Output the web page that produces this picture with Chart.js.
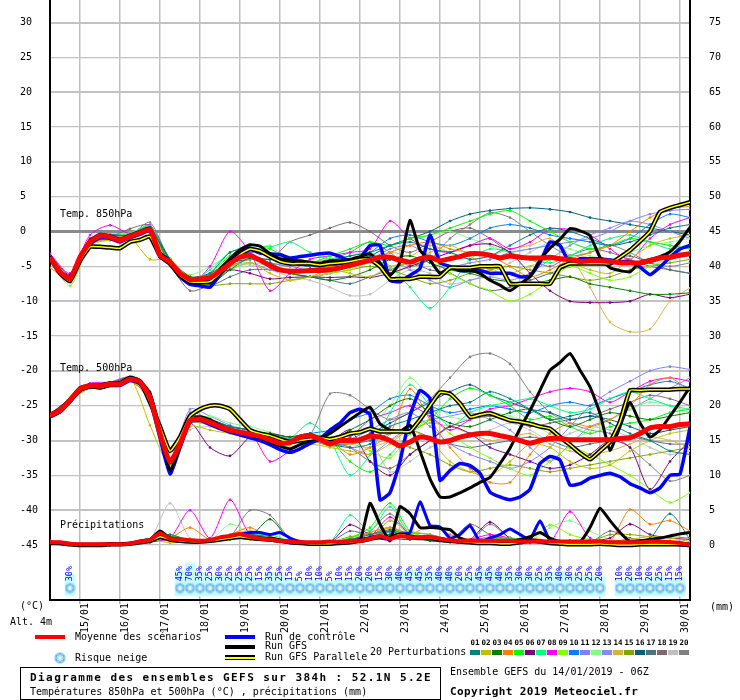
<!DOCTYPE html>
<html><head><meta charset="utf-8">
<script src="https://cdn.jsdelivr.net/npm/chart.js@4.4.1/dist/chart.umd.min.js"></script>
<style>
html,body{margin:0;padding:0;background:#fff;}
#wrap{position:relative;width:740px;height:700px;overflow:hidden;font-family:"DejaVu Sans Mono",monospace;font-size:10px;color:#000;}
#c{position:absolute;left:0;top:0;}
.t{position:absolute;white-space:nowrap;line-height:10px;}
.b{font-weight:bold;font-size:11px;line-height:11px;}
.bar{position:absolute;}
</style></head>
<body><div id="wrap"><canvas id="c" width="740" height="700"></canvas>
<div class="t" style="left:60px;top:209px">Temp. 850hPa</div>
<div class="t" style="left:60px;top:363px">Temp. 500hPa</div>
<div class="t" style="left:60px;top:520px">Précipitations</div>
<div class="t" style="left:20px;top:601px">(°C)</div>
<div class="t" style="left:10px;top:617px">Alt. 4m</div>
<div class="t" style="left:710px;top:602px">(mm)</div>
<div class="bar" style="left:35px;top:635px;width:30px;height:4px;background:#ff0000"></div>
<div class="t" style="left:75px;top:632px">Moyenne des scénarios</div>
<canvas id="flakeLeg" width="12" height="12" style="position:absolute;left:54px;top:652px"></canvas>
<div class="t" style="left:75px;top:653px">Risque neige</div>
<div class="bar" style="left:225px;top:635px;width:30px;height:4px;background:#0000ff"></div>
<div class="t" style="left:265px;top:632px">Run de contrôle</div>
<div class="bar" style="left:225px;top:645px;width:30px;height:4px;background:#000"></div>
<div class="t" style="left:265px;top:641px">Run GFS</div>
<div class="bar" style="left:225px;top:655px;width:30px;height:5px;background:#000"></div>
<div class="bar" style="left:225px;top:657px;width:30px;height:1.5px;background:#ffff00"></div>
<div class="t" style="left:265px;top:652px">Run GFS Parallele</div>
<div class="t" style="left:370px;top:647px">20 Perturbations</div>
<div id="swatches"></div>
<div style="position:absolute;left:20px;top:667px;width:419px;height:31px;border:1px solid #000;"></div>
<div class="t b" style="left:30px;top:672px;letter-spacing:1.42px">Diagramme des ensembles GEFS sur 384h : 52.1N 5.2E</div>
<div class="t" style="left:30px;top:687px">Températures 850hPa et 500hPa (°C) , précipitations (mm)</div>
<div class="t" style="left:450px;top:667px">Ensemble GEFS du 14/01/2019 - 06Z</div>
<div class="t b" style="left:450px;top:686px;letter-spacing:0.35px">Copyright 2019 Meteociel.fr</div>
</div>
<script>
// ---------------- DATA ----------------
const hours6 = []; for (let h = 0; h <= 384; h += 6) hours6.push(h);
const hours12 = []; for (let h = 0; h <= 384; h += 12) hours12.push(h);
const dayHours = [18,42,66,90,114,138,162,186,210,234,258,282,306,330,354,378];
const dayLabels = ['15/01','16/01','17/01','18/01','19/01','20/01','21/01','22/01','23/01','24/01','25/01','26/01','27/01','28/01','29/01','30/01'];
const leftTicks = [30,25,20,15,10,5,0,-5,-10,-15,-20,-25,-30,-35,-40,-45];
const rightTicks = [75,70,65,60,55,50,45,40,35,30,25,20,15,10,5,0];

const t850Mean = [-3.7,-5.8,-6.8,-3.7,-1.5,-0.6,-0.8,-1.3,-0.7,-0.2,0.3,
 -3.4,-4.4,-6.0,-6.9,-6.8,-6.6,-5.7,-4.6,-3.7,-3.4,-4.1,-4.9,-5.5,-5.7,-5.7,-5.6,-5.6,-5.5,-5.2,-4.9,-4.5,-4.1,
 -3.7,-3.7,-4.1,-4.4,-3.9,-3.7,-4.2,-3.9,-3.6,-3.2,-3.2,-3.4,-3.8,-3.5,-3.7,-3.8,-3.8,-3.7,-3.9,-4.0,-4.3,-4.2,-4.2,-4.3,-4.5,-4.5,-4.5,-4.2,-3.8,-3.7,-3.4,-3.2];
const t850Ctrl = [-3.5,-5.9,-7.0,-3.9,-1.8,-0.9,-1.0,-1.5,-0.9,-0.4,0.1,
 -3.6,-4.6,-6.5,-7.6,-7.8,-8.0,-6.2,-4.2,-2.7,-2.4,-3.1,-3.2,-3.3,-3.8,-3.6,-3.4,-3.2,-3.1,-3.6,-4.2,-3.8,-2.0,
 -2.0,-7.0,-7.2,-6.3,-5.3,-0.5,-4.5,-5.0,-5.6,-5.6,-5.6,-6.0,-6.0,-6.0,-6.5,-6.4,-4.4,-1.5,-2.0,-4.6,-3.9,-3.9,-3.9,-4.1,-4.3,-4.3,-5.1,-6.2,-5.1,-3.7,-2.5,-2.0];
const t850Gfs = [-3.6,-5.7,-6.6,-3.5,-1.3,-0.4,-0.6,-1.1,-0.5,0.0,0.5,
 -3.0,-4.2,-6.2,-7.0,-7.2,-6.8,-5.4,-3.9,-2.6,-1.9,-2.1,-3.2,-3.9,-4.1,-4.2,-4.4,-4.6,-4.2,-4.2,-4.0,-3.6,-3.2,
 -4.5,-6.3,-4.4,1.6,-2.7,-4.1,-6.0,-5.2,-5.6,-5.6,-6.0,-7.0,-7.7,-8.5,-7.5,-6.5,-4.1,-2.4,-1.1,0.4,0.1,-0.6,-3.7,-5.2,-5.6,-5.8,-4.4,-4.0,-3.6,-2.9,-1.4,0.6];
const t850Par = [-3.8,-6.0,-7.1,-4.2,-2.2,-2.2,-2.3,-2.4,-1.5,-1.2,-0.7,
 -3.5,-4.6,-6.3,-7.2,-7.3,-7.2,-6.0,-4.6,-3.3,-2.5,-2.8,-3.6,-4.3,-4.6,-4.6,-4.6,-4.8,-4.6,-4.5,-4.3,-4.0,-4.0,
 -5.0,-6.8,-6.8,-6.8,-6.5,-6.5,-6.5,-5.2,-5.2,-5.2,-5.0,-5.0,-5.0,-7.5,-7.5,-7.5,-7.5,-7.5,-5.2,-4.6,-4.6,-4.6,-4.6,-4.6,-3.7,-2.7,-1.4,0.0,2.8,3.4,3.8,4.2];

const t500Mean = [-26.4,-25.7,-24.2,-22.6,-22.1,-22.2,-21.9,-21.9,-21.2,-21.6,-23.8,-29.0,-33.1,-30.5,-27.1,-26.9,-27.4,-28.0,-28.5,-28.8,-29.1,-29.4,-29.9,-30.4,-30.3,-29.5,-29.3,-29.8,-30.5,-30.0,-30.0,-29.9,-29.4,
 -29.5,-30.0,-30.8,-30.2,-29.5,-29.7,-30.2,-30.0,-29.5,-29.2,-29.0,-29.0,-29.3,-29.6,-30.0,-30.4,-30.0,-29.7,-29.7,-29.9,-29.9,-29.9,-29.9,-29.9,-29.7,-29.6,-29.0,-28.2,-28.0,-28.0,-27.7,-27.6];
const t500Gfs = [-26.2,-25.5,-24.0,-22.4,-22.0,-22.0,-21.7,-21.7,-21.0,-21.4,-23.2,-28.5,-34.3,-31.0,-27.0,-26.6,-27.0,-27.8,-28.4,-28.8,-29.2,-29.6,-30.2,-30.8,-31.2,-30.6,-30.0,-29.6,
 -29.0,-28.0,-27.0,-26.0,-25.2,
 -27.6,-28.5,-28.7,-27.8,-31.5,-35.5,-38.1,-38.1,-37.5,-36.8,-36.0,-35.3,-33.3,-31.1,-28.3,-25.7,-22.8,-19.9,-18.8,-17.5,-19.9,-22.3,-26.1,-31.4,-28.0,-24.5,-27.5,-29.5,-28.5,-26.5,-24.5,-22.3];
const t500Ctrl = [-26.6,-25.9,-24.4,-22.8,-22.3,-22.4,-22.1,-22.1,-21.4,-21.8,-24.2,-29.6,-34.8,-31.0,-27.3,-27.1,-27.7,-28.3,-28.8,-29.2,-29.6,-30.0,-30.6,-31.3,-31.7,-31.2,-30.4,-29.8,
 -28.5,-27.5,-26.0,-25.5,-26.3,
 -38.5,-37.5,-33.0,-26.5,-22.8,-24.0,-35.7,-34.3,-33.3,-33.6,-34.7,-37.4,-38.1,-38.5,-38.1,-37.0,-33.3,-32.3,-32.8,-36.4,-36.2,-35.4,-35.0,-34.7,-35.2,-36.2,-36.8,-37.5,-36.8,-35.0,-34.8,-28.1];
const t500Par = [-26.5,-25.8,-24.3,-22.7,-22.2,-22.4,-22.0,-21.8,-21.0,-21.5,-24.5,-28.0,-31.5,-29.5,-26.5,-25.5,
 -25.0,-25.0,-25.5,-27.0,-28.5,-29.0,-29.3,-29.8,-30.2,-30.0,-29.8,-29.6,-29.8,-29.5,-29.0,-28.8,
 -28.3,
 -28.7,-28.7,-28.7,-28.7,-27.0,-25.0,-23.1,-23.3,-24.7,-26.6,-26.3,-26.1,-26.6,-27.1,-27.3,-27.6,-28.0,-28.3,-29.5,-30.6,-31.8,-32.7,-31.5,-30.2,-27.3,-22.8,-22.8,-22.7,-22.7,-22.7,-22.6,-22.6];

const prMean = [0.4,0.4,0.2,0.1,0.1,0.1,0.1,0.1,0.2,0.5,0.7,
 1.7,0.9,0.8,0.7,0.6,0.7,1.1,1.3,1.6,1.2,0.9,0.8,0.6,0.5,0.4,0.4,0.4,0.5,0.4,0.6,0.6,0.9,
 1.3,0.9,1.3,1.1,1.1,1.2,0.9,0.7,0.6,0.6,0.6,0.6,0.6,0.6,0.5,0.5,0.5,0.5,0.5,0.5,0.5,0.5,0.5,0.4,0.4,0.4,0.4,0.5,0.5,0.4,0.3,0.0];
const prGfs = [0.3,0.3,0.1,0.0,0.0,0.1,0.1,0.1,0.2,0.6,0.8,
 2.0,1.0,0.8,0.5,0.6,0.7,0.9,1.2,1.4,1.0,0.8,1.0,0.7,0.5,0.3,0.3,0.3,0.4,0.3,0.5,0.6,6.0,
 3.0,0.6,5.5,4.5,2.5,2.5,2.4,2.2,1.0,0.5,0.5,0.4,0.4,0.5,0.8,1.2,1.8,1.0,0.5,0.3,0.4,2.5,5.3,3.5,1.8,0.5,0.6,0.8,1.0,1.3,1.6,1.8];
const prCtrl = [0.3,0.2,0.1,0.0,0.0,0.0,0.1,0.1,0.2,0.5,0.6,
 1.5,0.8,0.6,0.6,0.5,0.6,1.0,1.3,1.5,1.8,1.8,1.5,1.8,1.0,0.5,0.3,0.3,0.3,0.4,0.5,0.8,1.0,
 1.0,0.8,1.5,1.8,6.2,2.8,2.6,1.0,1.5,2.8,0.5,1.0,1.5,2.3,1.5,0.8,3.5,0.6,0.3,0.2,0.2,0.2,0.2,0.3,0.3,0.1,0.1,0.2,0.2,0.2,0.0,0.0];
const prPar = [0.3,0.3,0.1,0.0,0.0,0.0,0.1,0.1,0.2,0.4,0.6,
 1.2,0.8,0.6,0.5,0.5,0.6,0.8,1.0,1.2,1.0,0.9,0.8,0.6,0.4,0.3,0.2,0.2,0.2,0.3,0.4,0.6,0.9,
 1.2,1.0,1.5,1.2,1.0,1.0,0.8,0.6,0.5,0.4,0.3,0.3,0.2,0.2,0.4,0.6,0.5,0.3,0.2,0.1,0.1,0.1,0.2,0.1,0.0,0.0,0.1,0.1,0.1,0.1,0.1,0.0];

const pertColors = ['#008080','#c0c000','#008000','#ff8000','#00ff00','#800080','#00ff80','#ff00ff','#80ff00','#0080ff',
 '#8080ff','#80ff80','#8888f8','#e0b040','#80a800','#006080','#507080','#806870','#c0c0c0','#808080'];

const t850Pert = [
 [-3.5,-6.5,-1.2,-0.6,-0.5,0.6,-4.8,-7.2,-6.0,-3.0,-2.5,-3.5,-4.5,-5.0,-4.2,-3.5,-3.0,-2.0,-1.5,-2.5,-3.0,-4.0,-3.5,-2.0,-0.5,0.5,0.0,-1.0,-2.0,-1.5,-0.5,0.5,1.0],
 [-3.9,-7.2,-2.0,-1.2,-0.9,-4.0,-4.0,-6.8,-7.0,-5.0,-4.5,-6.0,-7.0,-6.5,-5.5,-6.0,-6.5,-5.0,-4.5,-3.0,-2.0,-3.5,-5.5,-6.0,-5.0,-4.0,-4.5,-5.5,-6.0,-4.0,-2.0,-1.0,-0.5],
 [-3.8,-6.6,-1.6,-0.9,-0.8,0.2,-4.0,-6.5,-7.5,-5.5,-3.8,-4.5,-6.0,-6.5,-7.0,-6.5,-5.5,-4.0,-3.5,-4.5,-5.5,-6.0,-6.8,-7.2,-7.5,-7.0,-6.5,-7.5,-8.0,-8.5,-9.0,-9.0,-8.8],
 [-5.2,-6.9,-1.8,-1.0,-0.5,0.4,-4.3,-7.0,-6.2,-4.0,-2.8,-3.5,-4.2,-4.8,-5.0,-5.0,-4.0,-3.0,-2.0,-1.5,-2.5,-3.0,-3.5,-5.0,-6.5,-5.5,-4.0,-3.0,-2.0,0.0,2.0,3.3,3.6],
 [-3.6,-7.3,-1.3,-0.7,-0.4,0.5,-4.6,-7.4,-6.0,-3.5,-2.0,-2.5,-4.0,-4.5,-3.5,-2.5,-1.5,-2.0,-1.0,-0.5,0.5,1.5,2.5,3.0,1.5,0.0,-1.5,-2.5,-2.0,-1.0,-1.5,-2.0,-2.5],
 [-3.4,-6.2,-1.0,-0.5,-0.6,0.4,-4.2,-6.8,-6.5,-5.5,-6.0,-6.8,-6.6,-6.5,-6.6,-6.5,-6.6,-6.0,-5.0,-4.0,-3.0,-2.0,-1.8,-3.0,-6.0,-8.5,-10.0,-10.2,-10.2,-10.0,-9.0,-9.5,-9.0],
 [-3.6,-7.0,-1.4,-0.4,-0.3,0.8,-4.4,-7.0,-5.5,-3.0,-2.0,-2.2,-1.5,-3.0,-4.0,-3.5,-3.0,-5.0,-8.0,-11.0,-8.0,-4.0,-2.5,-3.0,-4.0,-4.5,-3.5,-2.0,-1.0,-0.5,-1.5,-2.5,-2.0],
 [-3.2,-6.0,-0.5,0.9,-0.3,0.9,-4.4,-7.5,-5.0,0.0,-3.0,-8.5,-6.0,-4.0,-3.5,-3.0,-2.5,1.5,-1.0,-2.5,-3.0,-2.0,-1.0,-2.5,-1.5,0.3,0.3,-0.5,-2.5,-4.0,-1.0,1.0,2.0],
 [-3.9,-7.8,-1.9,-1.3,-1.2,0.1,-4.5,-7.2,-7.5,-5.5,-4.5,-5.0,-6.0,-6.5,-6.0,-5.5,-4.5,-6.0,-5.0,-4.0,-6.0,-7.5,-8.5,-10.0,-9.0,-7.0,-5.0,-6.0,-7.0,-6.5,-5.0,-4.0,-3.0],
 [-3.5,-6.6,-1.2,-0.4,-0.6,0.6,-3.9,-7.0,-6.5,-4.0,-3.0,-3.5,-4.5,-5.0,-5.2,-4.0,-3.0,-1.0,-0.5,-1.5,-2.0,-1.0,0.5,1.0,0.5,-0.5,-1.0,-1.5,-2.0,-1.0,1.0,2.5,2.0],
 [-3.7,-6.9,-1.5,-0.5,-0.8,0.3,-4.0,-6.8,-6.5,-5.0,-4.0,-4.5,-5.0,-5.5,-5.0,-4.5,-4.0,-2.5,-2.0,-3.5,-5.0,-4.5,-4.0,-3.0,-2.5,-2.0,-1.5,-1.0,0.0,1.5,2.5,3.0,3.2],
 [-3.4,-6.4,-1.1,-0.7,-0.2,0.7,-4.6,-6.2,-5.0,-3.5,-3.0,-2.0,-4.5,-5.5,-5.0,-4.5,-4.0,-3.0,-1.5,-0.5,0.0,-1.0,-2.0,-3.0,-2.5,-2.0,-2.5,-3.5,-4.0,-3.0,-2.0,-1.5,-1.0],
 [-3.8,-6.8,-1.7,-0.8,-0.6,0.1,-4.3,-7.4,-7.0,-5.5,-4.5,-5.5,-6.0,-6.5,-6.0,-5.0,-4.5,-4.0,-5.5,-7.0,-8.0,-7.0,-6.5,-7.0,-6.0,-4.0,-2.0,-0.5,0.5,1.5,1.0,0.0,-1.0],
 [-3.6,-6.9,-1.6,-0.9,-0.7,0.2,-4.4,-7.0,-6.8,-5.0,-4.0,-4.8,-5.5,-5.8,-5.5,-5.0,-4.5,-3.0,-3.5,-2.0,-3.0,-4.0,-3.5,-2.5,-2.0,-1.0,-3.5,-8.0,-13.0,-14.4,-14.0,-10.0,-8.1],
 [-3.7,-7.1,-1.8,-1.1,-0.9,0.0,-4.9,-7.6,-7.8,-7.5,-7.5,-7.5,-7.0,-6.5,-6.0,-5.5,-5.0,-5.5,-6.5,-7.5,-7.0,-6.0,-5.5,-5.0,-5.5,-6.0,-6.5,-7.0,-6.5,-5.5,-5.0,-4.5,-4.0],
 [-3.6,-6.7,-1.4,-0.6,-0.4,0.5,-4.0,-6.5,-6.0,-4.5,-4.0,-4.0,-4.5,-5.0,-4.5,-4.0,-3.5,-2.0,-1.0,0.0,1.5,2.5,3.0,3.3,3.4,3.2,2.8,2.0,1.5,1.0,0.5,0.0,-0.5],
 [-3.5,-6.8,-1.3,-0.7,-0.6,0.4,-4.1,-7.2,-7.8,-6.5,-5.5,-5.5,-6.0,-6.5,-7.0,-7.5,-6.5,-5.5,-4.5,-5.5,-6.0,-7.5,-8.5,-8.0,-7.0,-6.0,-5.0,-4.5,-4.0,-3.5,-4.5,-5.5,-6.0],
 [-3.7,-7.0,-1.5,-0.8,0.4,0.9,-4.6,-8.5,-7.5,-4.0,-3.5,-4.0,-1.5,-0.5,0.5,1.3,0.0,-2.0,-3.0,-1.5,0.0,0.5,-1.0,-3.0,-4.0,-5.0,-3.5,-2.5,-3.0,-4.0,-5.0,-5.5,-6.0],
 [-3.8,-7.0,-1.7,-0.9,-0.7,0.1,-4.5,-7.1,-6.5,-5.0,-4.8,-5.5,-6.5,-7.0,-8.0,-9.2,-9.0,-7.0,-5.5,-6.0,-7.5,-7.0,-6.0,-4.5,-3.0,-1.5,-1.0,-1.5,-2.0,-1.5,-1.5,-2.0,-2.5],
 [-3.7,-6.9,-1.4,-0.7,-0.5,1.3,-4.3,-7.0,-6.0,-4.5,-3.5,-4.5,-5.0,-4.5,-4.0,-3.0,-1.5,-3.0,-5.0,-4.0,-1.0,1.0,2.7,2.0,0.0,-2.0,-3.5,-3.0,-2.0,-3.0,-4.5,-5.0,-4.5]
];

const t500Pert = [
 [-26.3,-24.0,-22.0,-21.8,-21.0,-23.5,-32.5,-27.0,-27.0,-28.0,-28.5,-29.5,-30.0,-29.5,-30.5,-31.0,-30.5,-28.0,-27.0,-26.0,-25.0,-24.5,-23.0,-24.0,-25.5,-27.0,-26.5,-26.0,-27.5,-29.0,-30.0,-31.5,-32.0],
 [-26.6,-24.5,-22.3,-22.0,-21.0,-27.8,-33.5,-28.0,-28.5,-29.0,-29.5,-30.0,-31.0,-30.5,-31.0,-31.5,-32.0,-30.5,-28.5,-30.0,-33.0,-34.5,-35.0,-33.0,-30.5,-31.0,-33.0,-34.0,-33.5,-31.5,-30.0,-29.0,-28.5],
 [-26.5,-24.3,-22.2,-21.9,-21.3,-23.5,-33.0,-26.5,-27.0,-28.0,-28.5,-29.0,-29.5,-29.0,-30.0,-28.5,-27.0,-25.0,-24.0,-26.0,-27.5,-28.0,-27.0,-26.0,-25.5,-27.0,-28.0,-27.0,-26.0,-26.5,-27.0,-26.5,-26.0],
 [-26.4,-24.2,-22.5,-22.0,-21.5,-24.0,-33.2,-27.0,-27.5,-28.5,-29.0,-29.5,-30.5,-29.5,-30.0,-32.0,-31.0,-29.0,-22.6,-27.0,-31.0,-34.0,-36.0,-36.0,-32.0,-29.0,-27.5,-28.0,-27.0,-25.0,-22.0,-21.0,-23.0],
 [-26.5,-24.2,-22.1,-21.9,-21.2,-24.0,-33.5,-27.5,-27.5,-28.5,-29.0,-29.5,-30.0,-29.5,-30.0,-33.0,-34.5,-32.0,-29.0,-27.0,-24.0,-22.5,-23.5,-25.0,-27.0,-26.5,-28.0,-29.0,-28.0,-27.5,-27.0,-26.0,-25.5],
 [-26.2,-24.0,-22.0,-21.8,-21.0,-23.0,-32.5,-27.5,-31.0,-32.2,-29.5,-29.0,-29.5,-29.0,-30.0,-28.5,-33.0,-35.0,-32.0,-30.0,-28.0,-29.0,-31.0,-32.0,-33.0,-34.0,-33.5,-32.0,-30.0,-31.0,-37.0,-33.0,-30.0],
 [-26.4,-24.1,-22.0,-21.8,-21.1,-23.6,-32.8,-27.0,-27.2,-28.2,-28.8,-29.2,-29.6,-27.5,-30.0,-35.0,-32.0,-26.0,-22.0,-25.0,-28.0,-26.0,-25.0,-24.5,-24.0,-25.0,-26.0,-25.5,-24.0,-23.0,-24.0,-25.0,-25.5],
 [-26.3,-24.0,-21.8,-21.6,-20.9,-23.4,-32.6,-26.8,-27.0,-28.0,-28.7,-33.0,-31.5,-30.0,-30.5,-29.5,-27.0,-26.0,-25.0,-26.5,-28.5,-27.0,-25.5,-25.0,-24.0,-23.0,-22.5,-23.0,-24.5,-23.0,-21.5,-21.0,-21.5],
 [-26.5,-24.4,-22.2,-22.0,-21.3,-24.2,-33.4,-27.2,-27.5,-28.5,-29.0,-29.5,-30.0,-29.8,-30.5,-30.0,-31.5,-32.5,-29.0,-27.0,-29.0,-31.0,-32.5,-34.0,-35.0,-33.0,-31.0,-32.0,-33.5,-35.0,-37.0,-38.9,-37.5],
 [-26.4,-24.2,-22.1,-21.9,-21.2,-23.8,-33.0,-27.1,-27.4,-28.2,-28.8,-29.3,-29.8,-29.0,-28.5,-27.0,-26.0,-24.0,-23.5,-25.0,-26.0,-25.5,-25.0,-25.5,-26.0,-25.0,-24.5,-25.0,-24.0,-23.0,-22.0,-21.5,-22.5],
 [-26.4,-24.2,-22.2,-22.0,-21.3,-24.0,-33.0,-26.0,-27.0,-28.3,-28.9,-29.4,-30.0,-29.8,-30.3,-29.8,-28.5,-27.0,-26.0,-28.0,-30.5,-32.0,-33.0,-34.0,-33.0,-31.0,-28.0,-25.0,-23.0,-21.5,-20.0,-19.4,-19.8],
 [-26.6,-24.3,-22.3,-22.0,-21.4,-24.1,-33.3,-27.5,-26.5,-27.5,-28.0,-28.8,-29.5,-29.0,-29.5,-29.0,-28.0,-25.0,-21.0,-24.0,-26.5,-27.0,-26.0,-26.5,-27.5,-29.0,-30.0,-28.5,-27.0,-25.5,-24.5,-25.0,-26.0],
 [-26.3,-24.1,-21.9,-21.8,-21.1,-23.7,-32.9,-25.5,-26.5,-27.8,-28.6,-29.2,-29.7,-29.0,-30.0,-31.0,-32.0,-30.0,-28.0,-27.0,-26.5,-26.0,-27.0,-28.5,-31.0,-33.0,-30.5,-28.0,-27.0,-25.5,-24.0,-22.5,-21.0],
 [-26.5,-24.3,-22.2,-22.0,-21.3,-24.0,-33.2,-27.3,-27.6,-28.6,-29.1,-29.6,-30.3,-29.6,-30.3,-30.5,-31.0,-30.0,-28.5,-27.5,-28.0,-29.0,-30.0,-29.5,-29.0,-30.5,-31.5,-32.0,-31.5,-30.5,-29.5,-30.0,-31.0],
 [-26.5,-24.3,-22.3,-22.1,-21.4,-24.2,-33.4,-27.5,-27.8,-28.8,-29.3,-29.8,-30.5,-30.0,-30.8,-30.5,-29.5,-30.0,-31.0,-32.0,-33.5,-34.5,-34.0,-33.5,-34.0,-34.5,-34.0,-33.5,-33.0,-32.5,-32.0,-31.5,-31.0],
 [-26.4,-24.2,-22.1,-21.9,-21.2,-24.5,-34.5,-27.0,-27.3,-28.3,-28.9,-29.4,-30.0,-29.5,-30.0,-30.0,-29.0,-27.5,-26.0,-24.5,-23.0,-22.0,-23.5,-24.5,-25.5,-26.0,-27.0,-26.5,-27.0,-28.0,-29.0,-28.5,-28.0],
 [-26.4,-24.2,-22.2,-22.0,-21.3,-23.9,-33.1,-27.2,-27.5,-28.5,-29.0,-29.5,-30.2,-29.5,-30.5,-30.5,-30.0,-29.0,-28.5,-29.5,-30.5,-31.0,-30.5,-30.0,-29.5,-30.0,-31.0,-30.5,-30.0,-29.5,-30.0,-30.5,-30.5],
 [-26.5,-24.3,-22.2,-22.0,-21.3,-24.0,-33.2,-27.3,-27.6,-28.6,-29.1,-29.6,-30.2,-29.5,-30.0,-31.0,-33.0,-34.0,-32.0,-30.0,-28.0,-27.0,-26.5,-27.0,-28.0,-27.5,-27.0,-26.5,-25.5,-24.5,-23.5,-24.0,-25.0],
 [-26.5,-24.3,-22.2,-22.0,-21.3,-24.0,-33.2,-28.5,-28.0,-28.6,-29.1,-29.6,-30.2,-29.5,-30.0,-30.5,-30.0,-34.5,-33.0,-31.0,-30.0,-29.5,-28.5,-27.5,-28.5,-30.0,-29.0,-28.0,-28.5,-29.5,-31.0,-32.0,-31.5],
 [-26.3,-24.1,-22.0,-21.8,-21.2,-23.5,-32.7,-27.0,-27.3,-28.3,-28.8,-29.3,-29.9,-29.2,-23.3,-23.5,-25.5,-27.0,-26.0,-24.0,-21.0,-18.0,-17.5,-19.0,-23.0,-26.0,-27.5,-28.5,-29.0,-31.0,-33.5,-35.8,-35.0]
];

const prPert = [
 [0.3,0.1,0.0,0.0,0.1,0.6,1.5,0.6,0.5,1.2,1.5,1.0,0.4,0.3,0.5,0.8,1.5,2.0,1.0,0.8,0.5,0.6,0.8,0.5,0.4,0.3,0.6,0.5,0.3,0.4,1.0,4.5,0.8],
 [0.4,0.1,0.0,0.0,0.2,0.8,0.3,0.5,0.6,1.0,0.8,0.7,0.3,0.2,0.3,0.5,0.8,3.5,2.0,1.5,0.8,0.5,0.4,0.6,0.8,0.5,0.3,0.2,0.5,0.8,1.2,1.0,0.5],
 [0.3,0.1,0.0,0.0,0.1,0.5,1.2,0.7,0.5,0.8,1.2,3.7,0.8,0.4,0.3,0.6,1.0,1.5,1.2,0.6,0.4,0.3,0.5,0.4,0.3,0.6,0.4,0.3,0.2,0.3,0.4,0.5,0.3],
 [0.6,0.2,0.0,0.0,0.1,0.7,1.0,2.5,0.8,1.5,2.5,1.0,0.5,0.3,0.4,0.7,1.8,2.5,1.5,2.8,1.5,0.8,0.6,0.5,1.0,0.6,0.4,0.3,0.5,5.1,3.0,3.5,2.0],
 [0.3,0.1,0.0,0.0,0.1,0.6,1.3,0.8,0.6,1.0,1.8,1.2,0.5,0.3,0.4,1.0,2.5,6.0,2.0,1.0,0.6,0.5,0.8,1.0,0.7,0.5,0.4,0.3,0.2,0.2,0.3,0.4,0.2],
 [0.3,0.1,0.0,0.0,0.1,0.4,1.0,0.6,0.7,1.2,1.5,0.8,0.4,0.3,0.4,2.9,1.5,1.0,0.8,1.2,0.6,0.8,3.3,1.0,0.5,0.4,0.3,0.6,1.0,3.0,1.5,1.0,0.8],
 [0.3,0.1,0.0,0.0,0.1,0.5,1.1,0.7,0.6,1.1,1.6,1.5,0.6,0.3,0.4,4.3,2.0,5.5,1.5,0.8,0.5,0.4,0.6,0.5,0.4,0.3,0.5,0.4,0.3,0.2,0.3,0.2,0.2],
 [0.3,0.1,0.0,0.0,0.1,0.5,1.0,5.0,1.0,6.5,1.5,1.0,0.5,0.3,0.4,0.6,1.2,4.0,1.5,0.8,0.6,0.8,1.5,1.0,0.6,0.4,4.8,1.0,0.5,0.4,0.3,0.5,0.3],
 [0.3,0.1,0.0,0.0,0.1,0.6,1.0,0.8,0.7,1.0,1.3,1.0,0.5,0.3,0.5,1.0,1.8,2.5,1.2,0.8,0.6,0.5,0.6,0.8,0.6,2.9,1.5,0.8,0.5,0.6,0.5,0.4,0.3],
 [0.3,0.1,0.0,0.0,0.1,0.5,1.0,0.6,0.6,1.0,1.5,1.2,0.5,0.3,0.3,0.6,1.0,2.0,1.8,1.5,0.8,0.6,0.5,0.4,0.5,0.3,0.6,0.4,0.3,0.2,0.3,0.4,0.2],
 [0.3,0.1,0.0,0.0,0.1,0.4,0.8,0.6,0.5,0.9,1.2,0.8,0.4,0.2,0.3,0.5,0.8,1.5,1.2,0.6,0.4,0.5,1.2,0.8,0.5,0.6,0.4,0.3,0.5,0.8,0.6,0.4,0.3],
 [0.3,0.1,0.0,0.0,0.1,0.5,1.0,0.7,0.6,3.0,1.8,1.2,0.6,0.3,0.4,0.8,1.5,2.0,1.5,1.0,0.6,0.5,0.8,0.6,0.5,2.5,3.5,2.0,0.8,0.5,0.4,0.3,0.2],
 [0.3,0.1,0.0,0.0,0.1,0.5,0.9,0.6,0.6,1.0,1.4,1.0,0.5,0.3,0.3,0.6,1.2,1.8,1.0,0.7,0.5,0.6,0.8,1.0,0.6,0.4,0.3,0.5,0.4,0.6,0.5,0.4,0.3],
 [0.3,0.1,0.0,0.0,0.1,0.6,1.0,0.8,0.7,1.5,2.0,1.2,0.5,0.3,0.4,0.7,1.2,2.5,1.5,0.8,0.6,0.5,0.6,0.5,0.4,0.5,0.6,0.4,0.3,0.4,0.3,0.5,0.3],
 [0.3,0.1,0.0,0.0,0.1,0.5,1.1,0.7,0.6,1.1,1.4,1.0,0.4,0.3,0.4,1.2,1.5,1.8,1.2,0.8,0.5,0.5,0.7,0.6,0.5,0.4,0.6,0.5,1.5,1.5,1.2,1.2,1.0],
 [0.3,0.1,0.0,0.0,0.1,0.5,1.0,0.6,0.5,1.0,1.2,0.8,0.4,0.3,0.5,0.8,1.5,2.2,1.5,1.0,0.6,0.5,0.6,0.5,0.4,0.3,0.4,0.3,0.3,0.4,0.5,0.4,0.3],
 [0.3,0.1,0.0,0.0,0.1,0.6,1.2,0.8,0.6,1.2,2.0,1.2,0.5,0.3,0.4,2.0,1.5,2.5,1.5,1.0,0.8,0.6,0.5,0.6,0.5,0.4,0.5,0.4,0.3,0.4,0.5,0.4,0.3],
 [0.3,0.1,0.0,0.0,0.1,0.5,1.0,0.6,0.5,1.0,1.5,1.0,0.5,0.3,0.4,0.8,1.2,2.0,1.2,0.8,0.6,3.0,1.5,0.8,0.6,0.5,0.5,0.4,2.0,1.0,0.6,0.5,0.3],
 [0.3,0.1,0.0,0.0,0.1,0.8,6.0,1.0,0.6,1.0,1.4,1.0,0.5,0.3,0.4,0.6,1.0,3.5,1.5,0.8,0.6,0.5,1.0,0.8,0.5,0.4,0.3,0.5,0.4,0.3,0.4,0.3,0.2],
 [0.3,0.1,0.0,0.0,0.1,0.6,1.0,0.8,0.7,1.2,5.0,4.3,1.0,0.4,0.5,1.0,2.0,4.5,1.5,1.0,0.8,0.6,3.0,1.0,0.6,0.5,0.4,0.5,0.6,0.4,0.5,0.4,0.3]
];

const snowHours = [12,
 78,84,90,96,102,108,114,120,126,132,138,144,150,156,162,168,174,180,186,192,
 198,204,210,216,222,228,234,240,246,252,258,264,270,276,282,288,294,300,306,312,318,324,330,
 342,348,354,360,366,372,378];
const snowPct = [30,
 45,70,35,25,30,25,25,25,15,35,25,15,5,10,10,5,10,15,20,20,
 15,30,40,45,45,35,40,40,20,25,45,45,40,35,30,30,25,35,40,30,25,25,20,
 10,20,10,20,25,15,15];

// ---------------- RENDER ----------------
Chart.defaults.font.family = '"DejaVu Sans Mono", monospace';
Chart.defaults.font.size = 10;
Chart.defaults.color = '#000';

function pts(hours, vals) { return vals.map((v, i) => ({x: hours[i], y: v})); }

function makeFlake(size) {
  const c = document.createElement('canvas'); c.width = size; c.height = size;
  const g = c.getContext('2d'); const m = size / 2;
  g.fillStyle = '#8ccff5'; g.beginPath(); g.arc(m, m, m - 0.3, 0, Math.PI * 2); g.fill();
  g.strokeStyle = '#ffffff'; g.lineWidth = 1;
  for (let k = 0; k < 3; k++) {
    const a = k * Math.PI / 3 + Math.PI / 2;
    g.beginPath(); g.moveTo(m + (m - 1.5) * Math.cos(a), m + (m - 1.5) * Math.sin(a));
    g.lineTo(m - (m - 1.5) * Math.cos(a), m - (m - 1.5) * Math.sin(a)); g.stroke();
  }
  g.fillStyle = '#3a98dc';
  for (let k = 0; k < 6; k++) {
    const a = k * Math.PI / 3 + Math.PI / 6;
    g.fillRect(m + (m - 2) * Math.cos(a) - 0.7, m + (m - 2) * Math.sin(a) - 0.7, 1.4, 1.4);
  }
  return c;
}
const flake = makeFlake(11);
document.getElementById('flakeLeg').getContext('2d').drawImage(makeFlake(12), 0, 0);

// swatches legend
const sw = document.getElementById('swatches');
pertColors.forEach((col, i) => {
  const n = document.createElement('div');
  n.className = 't';
  n.style.cssText = `left:${469 + 11 * i}px;top:639px;width:12px;text-align:center;font-size:7.5px;font-weight:bold;line-height:8px;`;
  n.textContent = String(i + 1).padStart(2, '0');
  sw.appendChild(n);
  const s = document.createElement('div');
  s.className = 'bar';
  s.style.cssText = `left:${470 + 11 * i}px;top:650px;width:10px;height:5px;background:${col};`;
  sw.appendChild(s);
});

const datasets = [];
function addLine(data, color, width, axis, order, extra) {
  datasets.push(Object.assign({
    type: 'line', data, borderColor: color, backgroundColor: color, borderWidth: width,
    pointRadius: 0, tension: 0.15, fill: false, yAxisID: axis, order
  }, extra || {}));
}
// perturbations
pertColors.forEach((col, i) => {
  const pe = {pointRadius: 1.3, pointBorderWidth: 0, pointBackgroundColor: col, tension: 0.25};
  addLine(pts(hours12, t850Pert[i]), col, 1, 'y', 10, pe);
  addLine(pts(hours12, t500Pert[i]), col, 1, 'y', 10, pe);
  addLine(pts(hours12, prPert[i]), col, 1, 'y2', 10, pe);
});
// control
addLine(pts(hours6, t850Ctrl), '#0000ff', 3.5, 'y', 4);
addLine(pts(hours6, t500Ctrl), '#0000ff', 3.5, 'y', 4);
addLine(pts(hours6, prCtrl), '#0000ff', 3, 'y2', 4);
// GFS
addLine(pts(hours6, t850Gfs), '#000000', 3, 'y', 3);
addLine(pts(hours6, t500Gfs), '#000000', 3, 'y', 3);
addLine(pts(hours6, prGfs), '#000000', 3, 'y2', 3);
// GFS parallel (black outline + yellow core)
addLine(pts(hours6, t850Par), '#000000', 4.5, 'y', 2);
addLine(pts(hours6, t500Par), '#000000', 4.5, 'y', 2);
addLine(pts(hours6, prPar), '#000000', 4.5, 'y2', 2);
addLine(pts(hours6, t850Par), '#ffff00', 1.5, 'y', 1);
addLine(pts(hours6, t500Par), '#ffff00', 1.5, 'y', 1);
addLine(pts(hours6, prPar), '#ffff00', 1.5, 'y2', 1);
// mean
addLine(pts(hours6, t850Mean), '#ff0000', 5, 'y', 0);
addLine(pts(hours6, t500Mean), '#ff0000', 5, 'y', 0);
addLine(pts(hours6, prMean), '#ff0000', 4, 'y2', 0);
// snow risk: flakes + probability bars
datasets.push({
  type: 'line', data: snowHours.map(h => ({x: h, y: -51.17})), showLine: false,
  pointStyle: flake, pointRadius: 5.5, yAxisID: 'y', order: 40
});
datasets.push({
  type: 'bar', data: snowHours.map((h, i) => ({x: h, y: [-52.3, -50.38 + 0.04 * snowPct[i]]})),
  backgroundColor: '#c6fbff', borderWidth: 0, barThickness: 10, yAxisID: 'y', order: 50
});

const snowText = {
  id: 'snowText',
  afterDatasetsDraw(chart) {
    const {ctx, scales: {x, y}} = chart;
    ctx.save();
    ctx.font = '8.5px "DejaVu Sans Mono"';
    ctx.fillStyle = '#0000ff';
    ctx.textAlign = 'left'; ctx.textBaseline = 'middle';
    const py = y.getPixelForValue(-50.2);
    snowHours.forEach((h, i) => {
      const px = x.getPixelForValue(h);
      ctx.save(); ctx.translate(px, py); ctx.rotate(-Math.PI / 2);
      ctx.fillText(snowPct[i] + '%', 0, 0);
      ctx.restore();
    });
    ctx.restore();
  }
};

new Chart(document.getElementById('c'), {
  type: 'line',
  data: {datasets},
  plugins: [snowText],
  options: {
    responsive: false, animation: false, devicePixelRatio: 1,
    events: [],
    layout: {autoPadding: false, padding: {left: 20, top: 0, right: 0, bottom: 0}},
    plugins: {legend: {display: false}, tooltip: {enabled: false}},
    scales: {
      x: {
        type: 'linear', min: 0, max: 384, offset: false,
        afterBuildTicks: s => { s.ticks = dayHours.map(v => ({value: v})); },
        afterFit: s => { s.height = 100; s.paddingLeft = 0; s.paddingRight = 0; },
        grid: {offset: false, color: '#c0c0c0', lineWidth: 1.5, drawTicks: true, tickLength: 4, tickColor: '#b0b0b0'},
        border: {display: true, color: '#000', width: 2},
        ticks: {autoSkip: false, minRotation: 90, maxRotation: 90, padding: -1, labelOffset: 5,
                font: {size: 10}, color: '#000', callback: (v, i) => dayLabels[i]}
      },
      y: {
        type: 'linear', position: 'left', min: -52.89, max: 33.23,
        afterBuildTicks: s => { s.ticks = leftTicks.map(v => ({value: v})); },
        afterFit: s => { s.width = 30; s.paddingTop = 0; s.paddingBottom = 0; },
        grid: {
          drawTicks: false, offset: false,
          color: c => (c.tick && c.tick.value === 0) ? '#8a8a8a' : '#c2c2c2',
          lineWidth: c => (c.tick && c.tick.value === 0) ? 3 : ((c.tick && c.tick.value % 10 === 0) ? 2 : 1.2)
        },
        border: {display: true, color: '#000', width: 2},
        ticks: {crossAlign: 'far', padding: 0, font: {size: 10}, color: '#000', callback: v => String(v)}
      },
      y2: {
        type: 'linear', position: 'right', min: -7.89, max: 78.23,
        afterBuildTicks: s => { s.ticks = rightTicks.map(v => ({value: v})); },
        afterFit: s => { s.width = 50; s.paddingTop = 0; s.paddingBottom = 0; },
        grid: {display: false, drawOnChartArea: false, drawTicks: false},
        border: {display: true, color: '#000', width: 2},
        ticks: {padding: 19, font: {size: 10}, color: '#000', callback: v => String(v)}
      }
    }
  }
});
</script>
</body></html>
